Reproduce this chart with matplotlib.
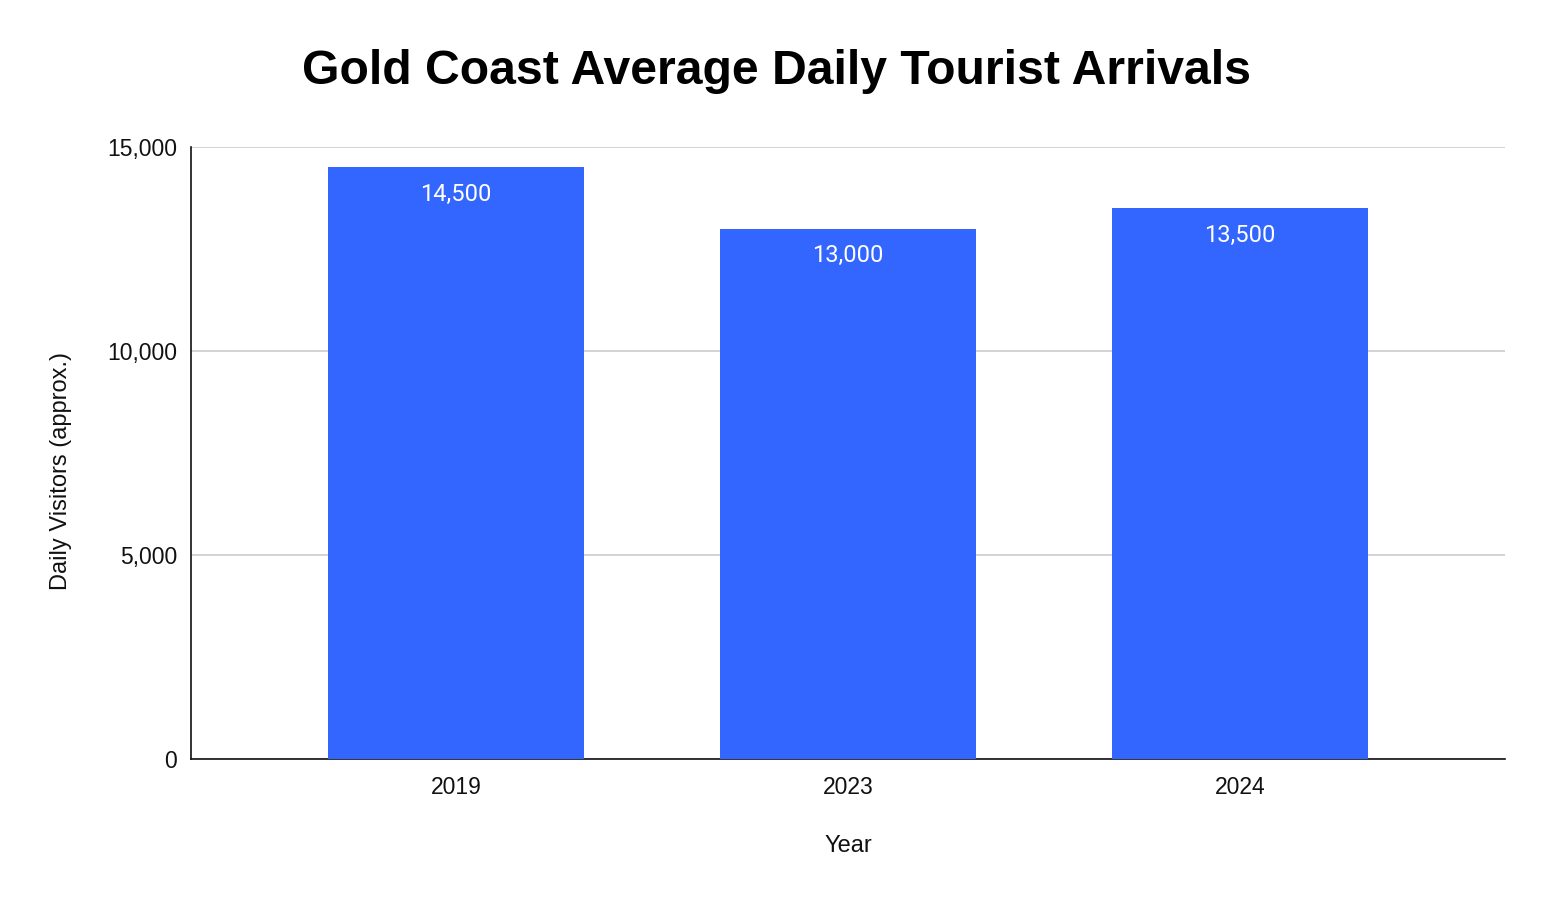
import matplotlib.pyplot as plt
import numpy as np

# 資料
years = ['2019', '2023', '2024']
visitors = [14500, 13000, 13500]
bar_labels = ['14,500', '13,000', '13,500']
y_ticks = [0, 5000, 10000, 15000]
y_tick_labels = ['0', '5,000', '10,000', '15,000']

bar_color = '#3366ff'
plt.rcParams['font.family'] = ['Liberation Sans', 'DejaVu Sans']

fig = plt.figure(figsize=(15.54, 9), dpi=100)
ax = fig.add_axes([191 / 1554, 1 - 759 / 900, (1505 - 191) / 1554, (759 - 147) / 900])

x = np.arange(len(years))
bars = ax.bar(x, visitors, width=0.653, color=bar_color, zorder=3)

for b, lab in zip(bars, bar_labels):
    ax.annotate(lab, (b.get_x() + b.get_width() / 2, b.get_height()),
                xytext=(0, -27), textcoords='offset pixels',
                ha='center', va='center', color='white', fontsize=17,
                family=['Roboto', 'DejaVu Sans'])

ax.set_xlim(-0.676, 2.676)
ax.set_ylim(0, 15000)
ax.set_xticks(x)
ax.set_xticklabels(years, fontsize=16.5)
ax.set_yticks(y_ticks)
ax.set_yticklabels(y_tick_labels, fontsize=16.5)
ax.tick_params(axis='both', length=0, colors='#111111')
ax.tick_params(axis='x', pad=12)
ax.tick_params(axis='y', pad=10)

ax.grid(axis='y', color='#cccccc', linewidth=1.2, zorder=0)
for s in ['top', 'right']:
    ax.spines[s].set_visible(False)
ax.spines['left'].set_color('#111111')
ax.spines['bottom'].set_color('#111111')
ax.spines['left'].set_linewidth(1.2)
ax.spines['bottom'].set_linewidth(1.2)

ax.set_xlabel('Year', fontsize=17, labelpad=26, color='#111111')
ax.set_ylabel('Daily Visitors (approx.)', fontsize=17, color='#111111')
ax.yaxis.set_label_coords(-0.0905, 0.47)

fig.text(776 / 1554, 1 - 72 / 900, 'Gold Coast Average Daily Tourist Arrivals',
         ha='center', va='center', fontsize=34.7, fontweight='bold')

fig.savefig('out.png', dpi=100)
